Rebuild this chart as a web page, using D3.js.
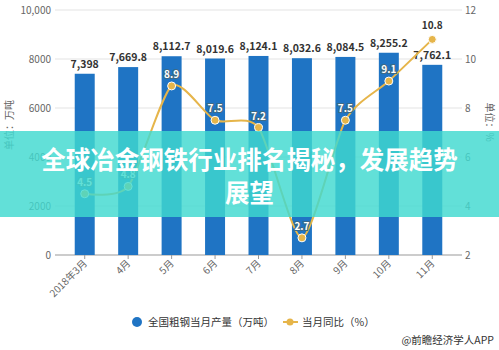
<!DOCTYPE html>
<html>
<head>
<meta charset="utf-8">
<script src="https://cdn.jsdelivr.net/npm/d3@7"></script>
<style>
  body { margin: 0; background: #fff; }
  svg { display: block; font-family: "Noto Sans CJK SC", "Noto Sans", sans-serif; }
</style>
</head>
<body>
<div id="chart"></div>
<script>
// DATA //
const months = ["2018年3月", "4月", "5月", "6月", "7月", "8月", "9月", "10月", "11月"];
const output = [7398, 7669.8, 8112.7, 8019.6, 8124.1, 8032.6, 8084.5, 8255.2, 7762.1];
const outputLabels = ["7,398", "7,669.8", "8,112.7", "8,019.6", "8,124.1", "8,032.6", "8,084.5", "8,255.2", "7,762.1"];
const yoy = [4.5, 4.8, 8.9, 7.5, 7.2, 2.7, 7.5, 9.1, 10.8];
const leftTicks = [0, 2000, 4000, 6000, 8000, 10000];
const rightTicks = [2, 4, 6, 8, 10, 12];

const W = 499, H = 350;
const blue = "#1f74c4", gold = "#e6b54a";

const svg = d3.select("#chart").append("svg")
    .attr("width", W).attr("height", H);

// scales
const x = d3.scaleBand().domain(months).range([63, 454]).paddingInner(0.54).paddingOuter(0.27);
const yL = d3.scaleLinear().domain([0, 10000]).range([255, 10]);
const yR = d3.scaleLinear().domain([2, 12]).range([255, 10]);

// grid lines
svg.append("g").selectAll("line").data(leftTicks).join("line")
    .attr("x1", 55).attr("x2", 462)
    .attr("y1", d => yL(d)).attr("y2", d => yL(d))
    .attr("stroke", d => d === 0 ? "#999" : "#e3e3e3").attr("stroke-width", 1);

// left tick labels
svg.append("g").selectAll("text").data(leftTicks).join("text")
    .attr("x", 51).attr("y", d => yL(d)).attr("dy", "0.35em")
    .attr("text-anchor", "end").attr("font-size", 10).attr("fill", "#666")
    .text(d => d === 10000 ? "10,000" : d);

// right tick labels
svg.append("g").selectAll("text").data(rightTicks).join("text")
    .attr("x", 465).attr("y", d => yR(d)).attr("dy", "0.35em")
    .attr("text-anchor", "start").attr("font-size", 10).attr("fill", "#666")
    .text(d => d);

// axis titles
svg.append("text").attr("transform", "translate(13,125) rotate(-90)")
    .attr("text-anchor", "middle").attr("font-size", 10).attr("fill", "#666").text("单位：万吨");
svg.append("text").attr("transform", "translate(486,122) rotate(90)")
    .attr("text-anchor", "middle").attr("font-size", 10).attr("fill", "#666").text("单位：%");

// x ticks & labels
const xc = d => x(d) + x.bandwidth() / 2;
svg.append("g").selectAll("line").data(months).join("line")
    .attr("x1", xc).attr("x2", xc).attr("y1", 255).attr("y2", 259)
    .attr("stroke", "#999");
svg.append("g").selectAll("text").data(months).join("text")
    .attr("transform", d => `translate(${xc(d) + 3},${264}) rotate(-45)`)
    .attr("text-anchor", "end").attr("font-size", 10).attr("fill", "#666")
    .text(d => d);

// bars
svg.append("g").selectAll("rect").data(output).join("rect")
    .attr("x", (d, i) => x(months[i]))
    .attr("y", d => yL(d))
    .attr("width", x.bandwidth())
    .attr("height", d => yL(0) - yL(d))
    .attr("fill", blue);

// bar labels
svg.append("g").selectAll("text").data(output).join("text")
    .attr("x", (d, i) => xc(months[i]))
    .attr("y", d => yL(d) - 6)
    .attr("text-anchor", "middle").attr("font-size", 10.5).attr("font-weight", "bold")
    .attr("fill", "#333")
    .text((d, i) => outputLabels[i]);

// line
const line = d3.line()
    .x((d, i) => xc(months[i]))
    .y(d => yR(d))
    .curve(d3.curveCardinal.tension(0.3));
svg.append("path").datum(yoy)
    .attr("d", line).attr("fill", "none")
    .attr("stroke", gold).attr("stroke-width", 2);

svg.append("g").selectAll("circle").data(yoy).join("circle")
    .attr("cx", (d, i) => xc(months[i]))
    .attr("cy", d => yR(d))
    .attr("r", 4).attr("fill", gold).attr("stroke", "#fff").attr("stroke-width", 1);

// point labels (last one sits above the plot in plain dark text)
const last = yoy.length - 1;
svg.append("g").selectAll("text").data(yoy).join("text")
    .attr("x", (d, i) => xc(months[i]))
    .attr("y", (d, i) => yR(d) - (i === last ? 10 : 8))
    .attr("text-anchor", "middle").attr("font-size", 10).attr("font-weight", "bold")
    .attr("fill", (d, i) => i === last ? "#333" : "#fff")
    .attr("stroke", (d, i) => i === last ? "none" : "#3d6a86").attr("stroke-width", 2.2)
    .attr("paint-order", "stroke")
    .text(d => d);

// legend
svg.append("circle").attr("cx", 137).attr("cy", 322).attr("r", 5).attr("fill", blue);
svg.append("text").attr("x", 148).attr("y", 322).attr("dy", "0.35em")
    .attr("font-size", 10.5).attr("fill", "#333").text("全国粗钢当月产量（万吨）");
svg.append("line").attr("x1", 283).attr("x2", 298).attr("y1", 322).attr("y2", 322)
    .attr("stroke", gold).attr("stroke-width", 2);
svg.append("circle").attr("cx", 290).attr("cy", 322).attr("r", 3.5).attr("fill", gold);
svg.append("text").attr("x", 302).attr("y", 322).attr("dy", "0.35em")
    .attr("font-size", 10.5).attr("fill", "#333").text("当月同比（%）");

// credit
svg.append("text").attr("x", 494).attr("y", 340).attr("dy", "0.35em")
    .attr("text-anchor", "end").attr("font-size", 10.5).attr("fill", "#333")
    .text("@前瞻经济学人APP");

// title band
svg.append("rect").attr("x", 0).attr("y", 131).attr("width", W).attr("height", 86)
    .attr("fill", "#3fd9d0").attr("opacity", 0.82);
svg.append("text").attr("x", W / 2).attr("y", 160).attr("dy", "0.35em")
    .attr("text-anchor", "middle").attr("font-size", 24.5).attr("font-weight", "bold")
    .attr("fill", "#fff").text("全球冶金钢铁行业排名揭秘，发展趋势");
svg.append("text").attr("x", W / 2).attr("y", 193).attr("dy", "0.35em")
    .attr("text-anchor", "middle").attr("font-size", 24.5).attr("font-weight", "bold")
    .attr("fill", "#fff").text("展望");
</script>
</body>
</html>
